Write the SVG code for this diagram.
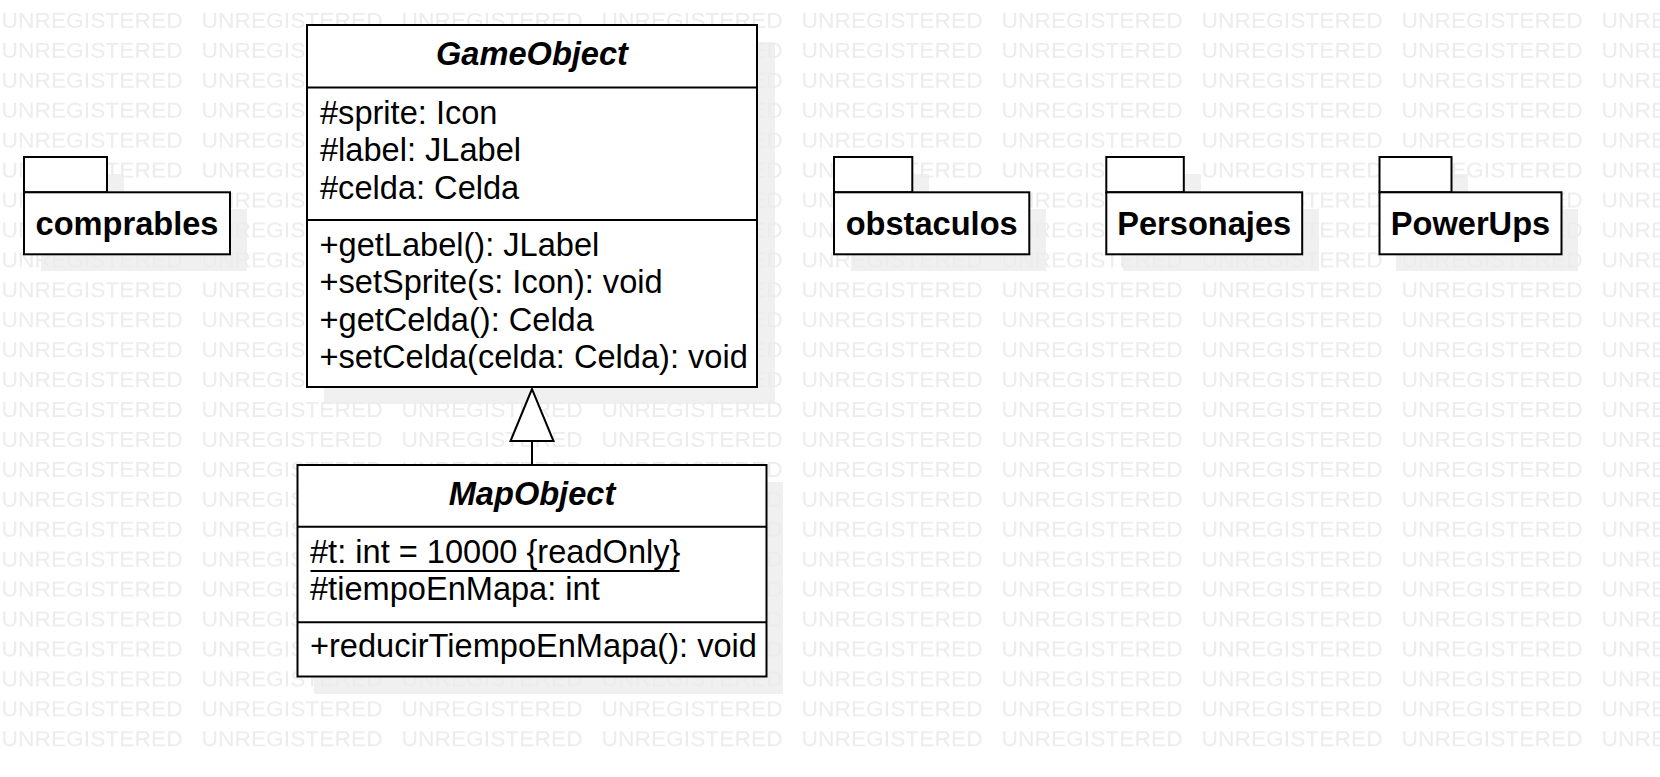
<svg xmlns="http://www.w3.org/2000/svg" width="1660" height="777" viewBox="0 0 1660 777">
<style>
.box{fill:#fff;stroke:#000;stroke-width:2}
.ln{stroke:#000;stroke-width:2;fill:none}
.sh{fill:#f0f0f0;stroke:none}
.t{font-family:"Liberation Sans",Arial,sans-serif;font-size:32.6px;fill:#000}
.ti{font-family:"Liberation Sans",Arial,sans-serif;font-size:32.6px;font-weight:bold;font-style:italic;fill:#000;text-anchor:middle}
.pk{font-family:"Liberation Sans",Arial,sans-serif;font-size:32.6px;font-weight:bold;fill:#000;text-anchor:middle}
.wm{font-family:"Liberation Sans",Arial,sans-serif;font-size:22.8px;fill:#ececec}
</style>
<defs>
<pattern id="wmp" patternUnits="userSpaceOnUse" x="0" y="0" width="200" height="29.93">
<text class="wm" x="1.5" y="28.3">UNREGISTERED</text>
</pattern>
</defs>
<rect width="1660" height="777" fill="#fff"/>
<g id="shadows">
<rect class="sh" x="324" y="42" width="451" height="362"/>
<rect class="sh" x="314" y="482" width="469" height="212"/>
<path class="sh" d="M41 174H124V209H247V271H41Z"/>
<path class="sh" d="M851 174H929V209H1046V271H851Z"/>
<path class="sh" d="M1123 174H1201V209H1319V271H1123Z"/>
<path class="sh" d="M1396 174H1468V209H1578V271H1396Z"/>
</g>
<rect x="0" y="0" width="1660" height="752" fill="url(#wmp)"/>
<g id="GameObject">
<rect class="box" x="307" y="25" width="450" height="362"/>
<line class="ln" x1="307" y1="87.5" x2="757" y2="87.5"/>
<line class="ln" x1="307" y1="220" x2="757" y2="220"/>
<text class="ti" x="532" y="65">GameObject</text>
<text class="t" x="320" y="123.5">#sprite: Icon</text>
<text class="t" x="320" y="161">#label: JLabel</text>
<text class="t" x="320" y="198.5">#celda: Celda</text>
<text class="t" x="319.5" y="255.5">+getLabel(): JLabel</text>
<text class="t" x="319.5" y="293">+setSprite(s: Icon): void</text>
<text class="t" x="319.5" y="330.5">+getCelda(): Celda</text>
<text class="t" x="319.5" y="368">+setCelda(celda: Celda): void</text>
</g>
<g id="MapObject">
<rect class="box" x="297.5" y="465" width="469" height="211.5"/>
<line class="ln" x1="297.5" y1="526.7" x2="766.5" y2="526.7"/>
<line class="ln" x1="297.5" y1="622.3" x2="766.5" y2="622.3"/>
<text class="ti" x="532" y="505">MapObject</text>
<text class="t" x="310" y="562.7">#t: int = 10000 {readOnly}</text>
<line class="ln" x1="310.5" y1="571" x2="679.5" y2="571"/>
<text class="t" x="310" y="600">#tiempoEnMapa: int</text>
<text class="t" x="310" y="657.3">+reducirTiempoEnMapa(): void</text>
</g>
<g id="comprables">
<rect class="box" x="24" y="157" width="83" height="35.3"/>
<rect class="box" x="24" y="192.3" width="206" height="62"/>
<text class="pk" x="127" y="235">comprables</text>
</g>
<g id="obstaculos">
<rect class="box" x="834" y="157" width="78.3" height="35.3"/>
<rect class="box" x="834" y="192.3" width="195.3" height="62"/>
<text class="pk" x="931.7" y="235">obstaculos</text>
</g>
<g id="Personajes">
<rect class="box" x="1106.3" y="157" width="77.5" height="35.3"/>
<rect class="box" x="1106.3" y="192.3" width="195.9" height="62"/>
<text class="pk" x="1204.2" y="235">Personajes</text>
</g>
<g id="PowerUps">
<rect class="box" x="1379.5" y="157" width="72" height="35.3"/>
<rect class="box" x="1379.5" y="192.3" width="182" height="62"/>
<text class="pk" x="1470.5" y="235">PowerUps</text>
</g>
<g id="connectors">
<line class="ln" x1="532" y1="441" x2="532" y2="465"/>
<polygon class="box" points="532,389 510.5,441 553.5,441"/>
</g>
</svg>
